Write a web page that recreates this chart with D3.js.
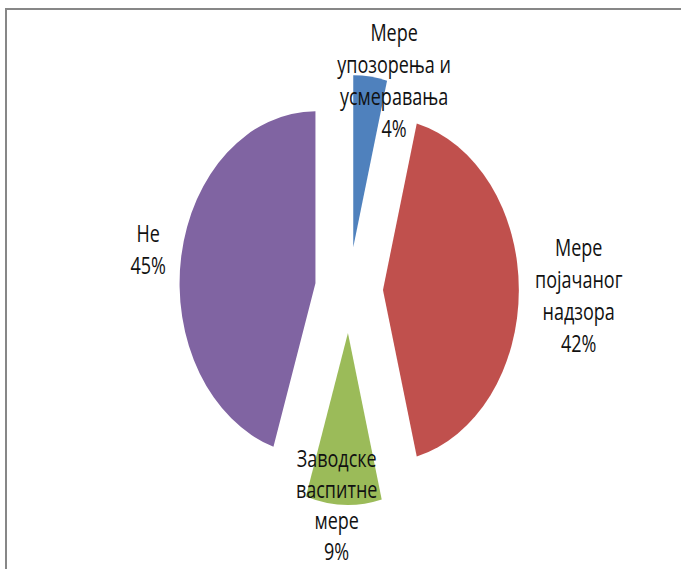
<!DOCTYPE html>
<html>
<head>
<meta charset="utf-8">
<script src="https://cdn.jsdelivr.net/npm/d3@7"></script>
<style>
  html, body { margin: 0; padding: 0; background: #fff; }
  svg { display: block; }
</style>
</head>
<body>
<svg id="chart" width="681" height="569"></svg>
<script>
// Categories and shares (percent) of the pie
const categories = [
  ["Мере", "упозорења и", "усмеравања"],
  ["Мере", "појачаног", "надзора"],
  ["Заводске", "васпитне", "мере"],
  ["Не"]
];
const values = [4, 42, 9, 45];
const colors = ["#4F81BD", "#C0504D", "#9BBB59", "#8064A2"];

const svg = d3.select("#chart");
const W = 681, H = 569;

// chart frame
svg.append("rect")
  .attr("x", 6).attr("y", 9)
  .attr("width", W + 20).attr("height", H + 20)
  .attr("fill", "none")
  .attr("stroke", "#878787")
  .attr("stroke-width", 2);

const cx = 349, cy = 290;
const radius = 172;
const squeeze = 0.79;      // horizontal aspect of the plot area
const explode = 43;        // distance each slice is pulled out

const pie = d3.pie().sort(null).value(d => d)(values);
const arc = d3.arc().innerRadius(0).outerRadius(radius);

const plot = svg.append("g")
  .attr("transform", `translate(${cx},${cy}) scale(${squeeze},1)`);

plot.selectAll("path.slice")
  .data(pie)
  .join("path")
  .attr("class", "slice")
  .attr("fill", (d, i) => colors[i])
  .attr("transform", d => {
    const m = (d.startAngle + d.endAngle) / 2;
    return `translate(${Math.sin(m) * explode},${-Math.cos(m) * explode})`;
  })
  .attr("d", arc);

// label placement: angle (deg) and distance from the pie centre, first baseline, line step
const labelPlace = [
  { ang: 16,    dist: 207, first: 41,  step: 32 },
  { ang: 92,    dist: 291, first: 256, step: 32 },
  { ang: 184,   dist: 224, first: 467, step: 31 },
  { ang: 278.5, dist: 257, first: 242, step: 32 }
];
const textSqueeze = 0.75;

const labels = svg.append("g")
  .attr("font-family", "'Open Sans', 'Noto Sans', sans-serif")
  .attr("font-size", 24)
  .attr("fill", "#111");

pie.forEach((d, i) => {
  const p = labelPlace[i];
  const a = p.ang * Math.PI / 180;
  const x = cx + Math.sin(a) * p.dist * squeeze;
  const lines = categories[i].concat([d3.format(".0f")(values[i]) + "%"]);
  const t = labels.append("text")
    .attr("text-anchor", "middle")
    .attr("transform", `translate(${x},${p.first}) scale(${textSqueeze},1)`);
  lines.forEach((s, k) => {
    t.append("tspan").attr("x", 0).attr("y", k * p.step).text(s);
  });
});
</script>
</body>
</html>
